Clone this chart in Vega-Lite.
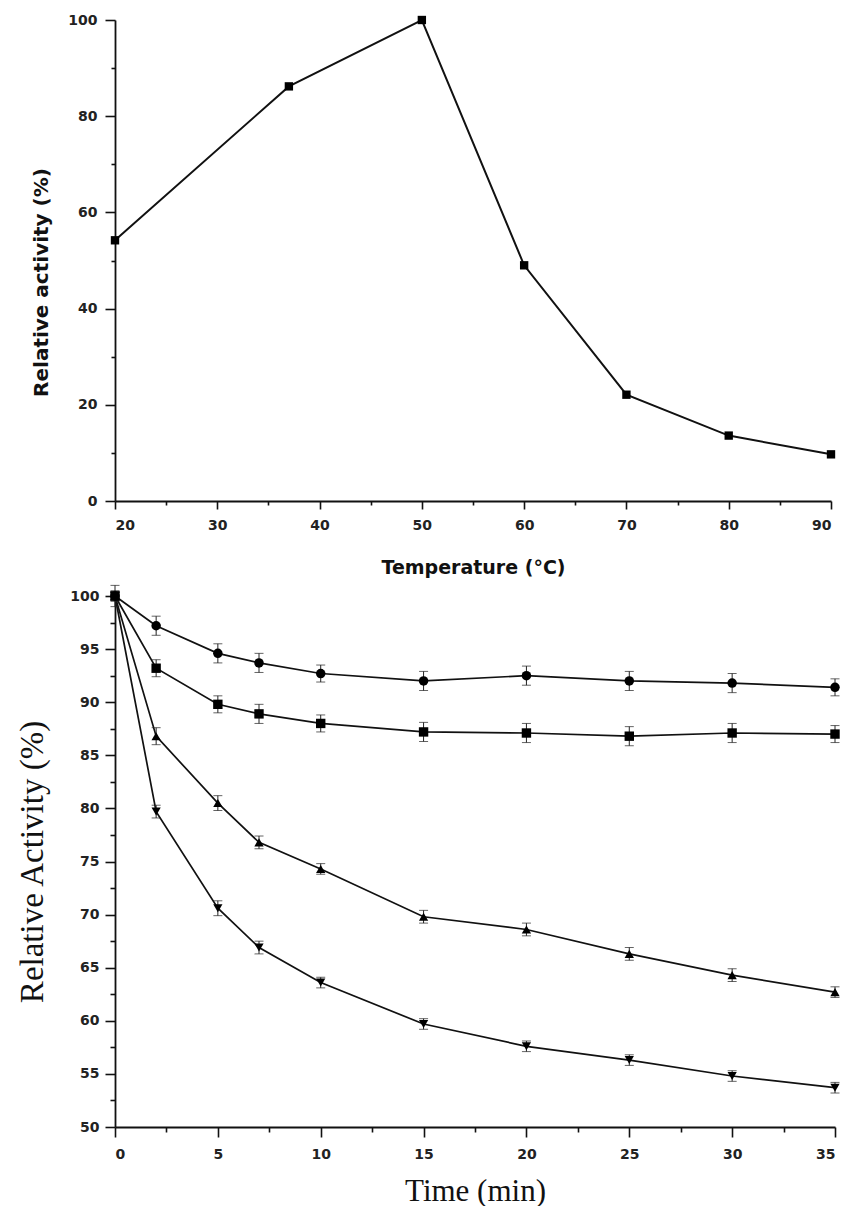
{
  "$schema": "https://vega.github.io/schema/vega-lite/v6.json",
  "background": "white",
  "padding": {"left": 16, "top": 13, "right": 10, "bottom": 0},
  "spacing": 7,
  "config": {
    "view": {"stroke": null},
    "axis": {
      "domainColor": "#111",
      "domainWidth": 1.8,
      "tickColor": "#111",
      "tickWidth": 1.6,
      "grid": false,
      "labelColor": "#222",
      "titleColor": "#111"
    }
  },
  "datasets": {
    "temp": [
      {"temperature": 20, "activity": 54.2},
      {"temperature": 37, "activity": 86.2},
      {"temperature": 50, "activity": 100},
      {"temperature": 60, "activity": 49.0},
      {"temperature": 70, "activity": 22.1},
      {"temperature": 80, "activity": 13.6},
      {"temperature": 90, "activity": 9.7}
    ],
    "stab": [
      {"time": 0, "activity": 100, "err": 1.0, "series": "A"},
      {"time": 2, "activity": 97.2, "err": 0.9, "series": "A"},
      {"time": 5, "activity": 94.6, "err": 0.9, "series": "A"},
      {"time": 7, "activity": 93.7, "err": 0.9, "series": "A"},
      {"time": 10, "activity": 92.7, "err": 0.8, "series": "A"},
      {"time": 15, "activity": 92.0, "err": 0.9, "series": "A"},
      {"time": 20, "activity": 92.5, "err": 0.9, "series": "A"},
      {"time": 25, "activity": 92.0, "err": 0.9, "series": "A"},
      {"time": 30, "activity": 91.8, "err": 0.9, "series": "A"},
      {"time": 35, "activity": 91.4, "err": 0.8, "series": "A"},
      {"time": 0, "activity": 100, "err": 0.5, "series": "B"},
      {"time": 2, "activity": 93.2, "err": 0.8, "series": "B"},
      {"time": 5, "activity": 89.8, "err": 0.8, "series": "B"},
      {"time": 7, "activity": 88.9, "err": 0.9, "series": "B"},
      {"time": 10, "activity": 88.0, "err": 0.8, "series": "B"},
      {"time": 15, "activity": 87.2, "err": 0.9, "series": "B"},
      {"time": 20, "activity": 87.1, "err": 0.9, "series": "B"},
      {"time": 25, "activity": 86.8, "err": 0.9, "series": "B"},
      {"time": 30, "activity": 87.1, "err": 0.9, "series": "B"},
      {"time": 35, "activity": 87.0, "err": 0.8, "series": "B"},
      {"time": 0, "activity": 100, "err": 0.4, "series": "C"},
      {"time": 2, "activity": 86.8, "err": 0.8, "series": "C"},
      {"time": 5, "activity": 80.5, "err": 0.7, "series": "C"},
      {"time": 7, "activity": 76.8, "err": 0.6, "series": "C"},
      {"time": 10, "activity": 74.3, "err": 0.5, "series": "C"},
      {"time": 15, "activity": 69.8, "err": 0.6, "series": "C"},
      {"time": 20, "activity": 68.6, "err": 0.6, "series": "C"},
      {"time": 25, "activity": 66.3, "err": 0.6, "series": "C"},
      {"time": 30, "activity": 64.3, "err": 0.6, "series": "C"},
      {"time": 35, "activity": 62.7, "err": 0.5, "series": "C"},
      {"time": 0, "activity": 100, "err": 0.4, "series": "D"},
      {"time": 2, "activity": 79.7, "err": 0.6, "series": "D"},
      {"time": 5, "activity": 70.6, "err": 0.7, "series": "D"},
      {"time": 7, "activity": 66.9, "err": 0.6, "series": "D"},
      {"time": 10, "activity": 63.6, "err": 0.5, "series": "D"},
      {"time": 15, "activity": 59.7, "err": 0.5, "series": "D"},
      {"time": 20, "activity": 57.6, "err": 0.5, "series": "D"},
      {"time": 25, "activity": 56.3, "err": 0.5, "series": "D"},
      {"time": 30, "activity": 54.8, "err": 0.5, "series": "D"},
      {"time": 35, "activity": 53.7, "err": 0.5, "series": "D"}
    ]
  },
  "vconcat": [
    {
      "width": 716,
      "height": 481,
      "data": {"name": "temp"},
      "encoding": {
        "x": {
          "field": "temperature", "type": "quantitative",
          "scale": {"domain": [20, 90], "nice": false, "zero": false},
          "axis": {
            "title": "Temperature (°C)",
            "values": [20, 25, 30, 35, 40, 45, 50, 55, 60, 65, 70, 75, 80, 85, 90],
            "labelExpr": "datum.value % 10 === 0 ? datum.label : ''",
            "tickSize": {"condition": {"test": "datum.value % 10 === 0", "value": 8}, "value": 4},
            "labelFont": "DejaVu Sans", "labelFontWeight": "bold", "labelFontSize": 14,
            "labelPadding": 9,
            "titleFont": "DejaVu Sans", "titleFontWeight": "bold", "titleFontSize": 19,
            "titlePadding": 26
          }
        },
        "y": {
          "field": "activity", "type": "quantitative",
          "scale": {"domain": [0, 100], "nice": false},
          "axis": {
            "title": "Relative activity (%)",
            "titleY": 262,
            "values": [0, 10, 20, 30, 40, 50, 60, 70, 80, 90, 100],
            "labelExpr": "datum.value % 20 === 0 ? datum.label : ''",
            "tickSize": {"condition": {"test": "datum.value % 20 === 0", "value": 10}, "value": 4},
            "labelFont": "DejaVu Sans", "labelFontWeight": "bold", "labelFontSize": 14,
            "labelPadding": 8,
            "titleFont": "DejaVu Sans", "titleFontWeight": "bold", "titleFontSize": 20,
            "titlePadding": 16
          }
        }
      },
      "layer": [
        {"mark": {"type": "line", "color": "#111", "strokeWidth": 2}},
        {"mark": {"type": "point", "shape": "square", "filled": true, "color": "#000", "size": 70, "opacity": 1}}
      ]
    },
    {
      "width": 720,
      "height": 531,
      "data": {"name": "stab"},
      "encoding": {
        "x": {
          "field": "time", "type": "quantitative",
          "scale": {"domain": [0, 35], "nice": false, "zero": false},
          "axis": {
            "title": "Time (min)",
            "values": [0, 2.5, 5, 7.5, 10, 12.5, 15, 17.5, 20, 22.5, 25, 27.5, 30, 32.5, 35],
            "labelExpr": "datum.value % 5 === 0 ? datum.label : ''",
            "tickSize": {"condition": {"test": "datum.value % 5 === 0", "value": 10}, "value": 5},
            "labelFont": "DejaVu Sans", "labelFontWeight": "bold", "labelFontSize": 14,
            "labelPadding": 10,
            "titleFont": "Liberation Serif", "titleFontWeight": "normal", "titleFontSize": 31,
            "titlePadding": 15
          }
        },
        "y": {
          "field": "activity", "type": "quantitative",
          "scale": {"domain": [50, 100], "nice": false, "zero": false},
          "axis": {
            "title": "Relative Activity (%)",
            "values": [50, 52.5, 55, 57.5, 60, 62.5, 65, 67.5, 70, 72.5, 75, 77.5, 80, 82.5, 85, 87.5, 90, 92.5, 95, 97.5, 100],
            "labelExpr": "datum.value % 5 === 0 ? datum.label : ''",
            "tickSize": {"condition": {"test": "datum.value % 5 === 0", "value": 10}, "value": 5},
            "labelFont": "DejaVu Sans", "labelFontWeight": "bold", "labelFontSize": 14,
            "labelPadding": 6,
            "titleFont": "Liberation Serif", "titleFontWeight": "normal", "titleFontSize": 33,
            "titlePadding": 20
          }
        }
      },
      "layer": [
        {
          "mark": {"type": "line", "color": "#111", "strokeWidth": 1.7},
          "encoding": {"detail": {"field": "series"}}
        },
        {
          "mark": {"type": "errorbar", "color": "#222", "ticks": {"size": 9, "color": "#222"}, "rule": {"strokeWidth": 1}},
          "encoding": {"yError": {"field": "err"}, "detail": {"field": "series"}}
        },
        {
          "mark": {"type": "point", "filled": true, "color": "#000", "opacity": 1},
          "encoding": {
            "shape": {
              "field": "series", "type": "nominal",
              "scale": {"domain": ["A", "B", "C", "D"], "range": ["circle", "square", "triangle-up", "triangle-down"]},
              "legend": null
            },
            "size": {
              "field": "series", "type": "nominal",
              "scale": {"domain": ["A", "B", "C", "D"], "range": [90, 85, 140, 140]},
              "legend": null
            }
          }
        }
      ]
    }
  ]
}
